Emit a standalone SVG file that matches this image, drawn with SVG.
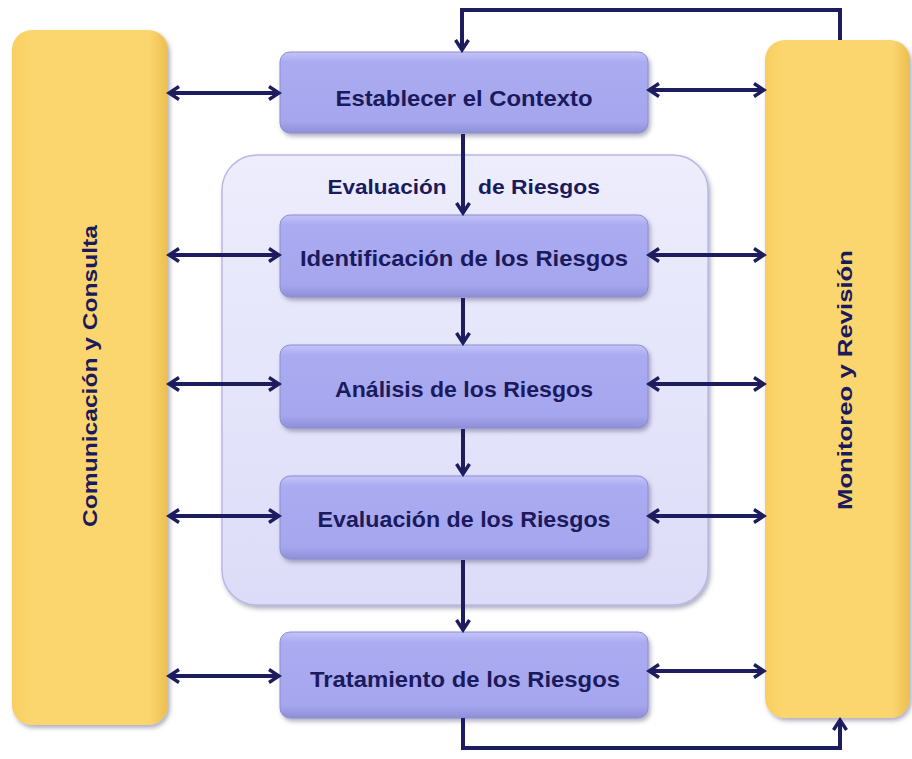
<svg xmlns="http://www.w3.org/2000/svg" width="912" height="759" viewBox="0 0 912 759">
<defs>
<linearGradient id="gy" x1="0" y1="0" x2="1" y2="0">
<stop offset="0" stop-color="#F8CE60"/>
<stop offset="0.12" stop-color="#FBD56E"/>
<stop offset="0.88" stop-color="#FBD56E"/>
<stop offset="1" stop-color="#EBBE50"/>
</linearGradient>
<linearGradient id="gb" x1="0" y1="0" x2="0" y2="1">
<stop offset="0" stop-color="#C4C4F8"/>
<stop offset="0.12" stop-color="#ABABF2"/>
<stop offset="0.85" stop-color="#A6A6EE"/>
<stop offset="1" stop-color="#8F8FD8"/>
</linearGradient>
<linearGradient id="gc" x1="0" y1="0" x2="0" y2="1">
<stop offset="0" stop-color="#EDEDFD"/>
<stop offset="1" stop-color="#DCDCF8"/>
</linearGradient>
<filter id="sh" x="-10%" y="-10%" width="120%" height="130%">
<feDropShadow dx="2" dy="3" stdDeviation="2" flood-color="#555577" flood-opacity="0.45"/>
</filter>
<marker id="ah" viewBox="0 0 16 16" refX="13" refY="8" markerWidth="16" markerHeight="16" markerUnits="userSpaceOnUse" orient="auto-start-reverse">
<path d="M3,1.5 L13,8 L3,14.5" fill="none" stroke="#1C1C5E" stroke-width="3.4" stroke-linejoin="miter"/>
</marker>
</defs>
<style>
.bar{fill:url(#gy);filter:url(#sh)}
.box{fill:url(#gb);stroke:#8C8CD0;stroke-width:1;filter:url(#sh)}
.lbl{font-family:"Liberation Sans",Arial,sans-serif;font-weight:bold;fill:#1A1A5C;text-anchor:middle}
.c{stroke:#1C1C5E;stroke-width:4;fill:none}
</style>

<g id="comunicacion">
<rect class="bar" x="12" y="30" width="156" height="695" rx="20"/>
<text class="lbl" font-size="20" transform="translate(97,376) rotate(-90)" textLength="302" lengthAdjust="spacingAndGlyphs">Comunicación  y  Consulta</text>
</g>
<g id="monitoreo">
<rect class="bar" x="765" y="40" width="145" height="678" rx="20"/>
<text class="lbl" font-size="20" transform="translate(852,380) rotate(-90)" textLength="260" lengthAdjust="spacingAndGlyphs">Monitoreo  y  Revisión</text>
</g>
<g id="evaluacion-riesgos">
<rect x="222" y="155" width="486" height="450" rx="35" fill="url(#gc)" stroke="#B8B8E6" stroke-width="1.5" filter="url(#sh)"/>
<text class="lbl" x="387" y="194" font-size="21" textLength="119" lengthAdjust="spacingAndGlyphs">Evaluación</text>
<text class="lbl" x="539" y="194" font-size="21" textLength="122" lengthAdjust="spacingAndGlyphs">de Riesgos</text>
</g>
<g id="contexto">
<rect class="box" x="280" y="52" width="368" height="81" rx="10"/>
<text class="lbl" x="464" y="106" font-size="22" textLength="257" lengthAdjust="spacingAndGlyphs">Establecer el Contexto</text>
</g>
<g id="identificacion">
<rect class="box" x="280" y="215" width="368" height="82" rx="10"/>
<text class="lbl" x="464" y="266" font-size="22" textLength="328" lengthAdjust="spacingAndGlyphs">Identificación de los Riesgos</text>
</g>
<g id="analisis">
<rect class="box" x="280" y="345" width="368" height="83" rx="10"/>
<text class="lbl" x="464" y="397" font-size="22" textLength="258" lengthAdjust="spacingAndGlyphs">Análisis de los Riesgos</text>
</g>
<g id="evaluacion">
<rect class="box" x="280" y="476" width="368" height="83" rx="10"/>
<text class="lbl" x="464" y="527" font-size="22" textLength="293" lengthAdjust="spacingAndGlyphs">Evaluación de los Riesgos</text>
</g>
<g id="tratamiento">
<rect class="box" x="280" y="632" width="368" height="86" rx="10"/>
<text class="lbl" x="465" y="687" font-size="22" textLength="310" lengthAdjust="spacingAndGlyphs">Tratamiento de los Riesgos</text>
</g>

<g id="connectors">
<path class="c" d="M169,93 H279" marker-start="url(#ah)" marker-end="url(#ah)"/>
<path class="c" d="M169,255 H279" marker-start="url(#ah)" marker-end="url(#ah)"/>
<path class="c" d="M169,384 H279" marker-start="url(#ah)" marker-end="url(#ah)"/>
<path class="c" d="M169,516 H279" marker-start="url(#ah)" marker-end="url(#ah)"/>
<path class="c" d="M169,676 H279" marker-start="url(#ah)" marker-end="url(#ah)"/>
<path class="c" d="M649,90 H764" marker-start="url(#ah)" marker-end="url(#ah)"/>
<path class="c" d="M649,255 H764" marker-start="url(#ah)" marker-end="url(#ah)"/>
<path class="c" d="M649,384 H764" marker-start="url(#ah)" marker-end="url(#ah)"/>
<path class="c" d="M649,516 H764" marker-start="url(#ah)" marker-end="url(#ah)"/>
<path class="c" d="M649,671 H764" marker-start="url(#ah)" marker-end="url(#ah)"/>
<path class="c" d="M463,134 V213" marker-end="url(#ah)"/>
<path class="c" d="M463,298 V343" marker-end="url(#ah)"/>
<path class="c" d="M463,429 V474" marker-end="url(#ah)"/>
<path class="c" d="M463,560 V630" marker-end="url(#ah)"/>
<path class="c" d="M840,40 V10 H462 V50" marker-end="url(#ah)"/>
<path class="c" d="M463,718 V748 H840 V720" marker-end="url(#ah)"/>
</g>
</svg>
